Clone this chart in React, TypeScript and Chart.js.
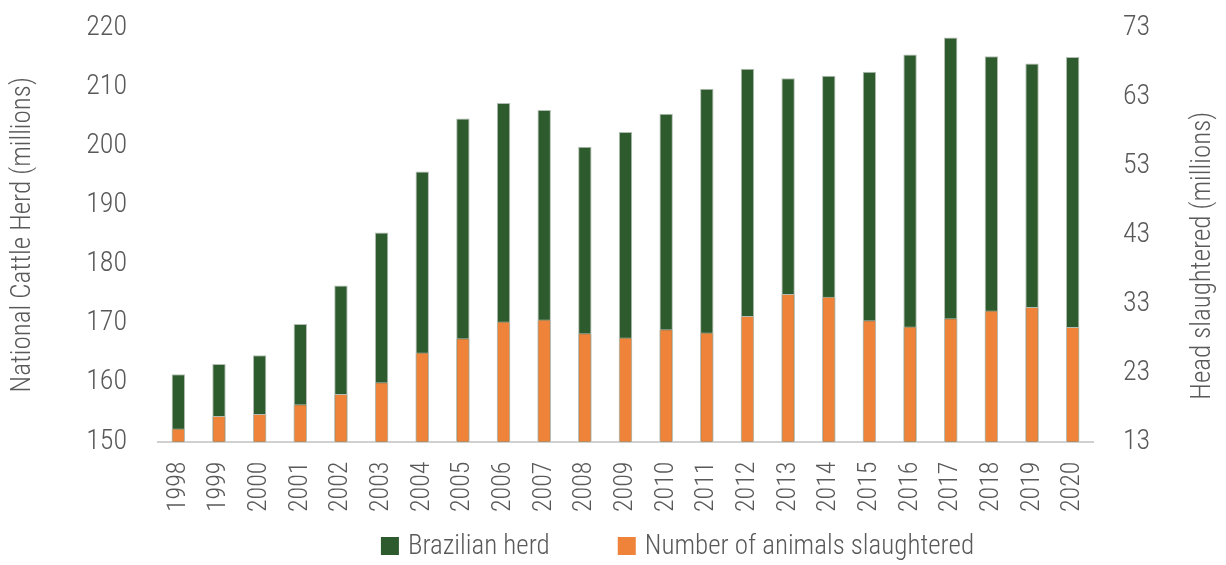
import React, { useEffect, useRef } from "react";
import { Chart, registerables } from "chart.js";

Chart.register(...registerables);

const years = ["1998","1999","2000","2001","2002","2003","2004","2005","2006","2007","2008","2009","2010","2011","2012","2013","2014","2015","2016","2017","2018","2019","2020"];
const herd = [161.4,163.1,164.6,169.9,176.4,185.4,195.7,204.7,207.3,206.1,199.9,202.4,205.5,209.7,213.1,211.5,211.9,212.6,215.5,218.4,215.2,214.0,215.1];
const slaughtered = [14.9,16.7,17.0,18.4,19.9,21.6,25.9,28.0,30.4,30.7,28.7,28.1,29.3,28.8,31.2,34.4,34.0,30.6,29.7,30.9,32.0,32.5,29.6];
const leftAxisRange = [150, 220];
const rightAxisRange = [13, 73];
const tickStep = 10;
const herdLabel = "Brazilian herd";
const slaughterLabel = "Number of animals slaughtered";
const leftTitle = "National Cattle Herd (millions)";
const rightTitle = "Head slaughtered (millions)";

const FONT = "'Roboto Condensed', 'DejaVu Sans Condensed', sans-serif";
const WEIGHT = "300";
const TEXT = "#595959";
const GREEN = "#2E5B2E";
const ORANGE = "#F0833A";
const EDGE = "#B4BDB4";

const extrasPlugin = {
  id: "extras",
  afterDraw(chart: any) {
    const { ctx, chartArea } = chart;
    ctx.save();
    // right axis title, reading bottom-to-top
    ctx.font = `${WEIGHT} 27px ${FONT}`;
    ctx.fillStyle = TEXT;
    ctx.textAlign = "center";
    ctx.textBaseline = "middle";
    ctx.save();
    ctx.translate(chart.width - 23, (chartArea.top + chartArea.bottom) / 2 + 21);
    ctx.rotate(-Math.PI / 2);
    ctx.fillText(rightTitle, 0, 0);
    ctx.restore();

    // legend
    const items = chart.data.datasets.map((d: any) => ({ text: d.label, color: d.backgroundColor }));
    const box = 18, boxGap = 9, itemGap = 68;
    ctx.font = `${WEIGHT} 27px ${FONT}`;
    const widths = items.map((it: any) => ctx.measureText(it.text).width);
    const total = widths.reduce((s: number, w: number) => s + box + boxGap + w, 0) + itemGap * (items.length - 1);
    const centerX = (chartArea.left + chartArea.right) / 2 + 52;
    const cy = chart.height - 19;
    let x = centerX - total / 2;
    ctx.textAlign = "left";
    items.forEach((it: any, i: number) => {
      ctx.fillStyle = it.color;
      ctx.fillRect(x, cy - box / 2, box, box);
      x += box + boxGap;
      ctx.fillStyle = TEXT;
      ctx.fillText(it.text, x, cy + 1);
      x += widths[i] + itemGap;
    });
    ctx.restore();
  },
};

export default function App() {
  const ref = useRef<HTMLCanvasElement | null>(null);
  useEffect(() => {
    if (!ref.current) return;
    const chart = new Chart(ref.current, {
      type: "bar",
      data: {
        labels: years,
        datasets: [
          {
            label: herdLabel,
            data: herd,
            yAxisID: "y",
            backgroundColor: GREEN,
            borderColor: EDGE,
            borderWidth: 1,
            grouped: false,
            order: 2,
            categoryPercentage: 1,
            barPercentage: 0.33,
          } as any,
          {
            label: slaughterLabel,
            data: slaughtered,
            yAxisID: "y1",
            backgroundColor: ORANGE,
            borderColor: EDGE,
            borderWidth: 1,
            grouped: false,
            order: 1,
            categoryPercentage: 1,
            barPercentage: 0.33,
          } as any,
        ],
      },
      options: {
        animation: false,
        responsive: false,
        maintainAspectRatio: false,
        layout: { padding: { left: 0, right: 0, top: 28, bottom: 0 } },
        plugins: {
          tooltip: { enabled: false },
          legend: { display: false },
        },
        scales: {
          x: {
            grid: { display: false, drawTicks: false },
            border: { display: true, color: "#D0D0D0", width: 2 },
            ticks: {
              color: TEXT,
              font: { family: FONT, size: 26, weight: WEIGHT },
              minRotation: 90,
              maxRotation: 90,
              padding: 20,
              autoSkip: false,
            },
            afterFit: (s: any) => { s.height = 123.5; },
          },
          y: {
            position: "left",
            min: leftAxisRange[0],
            max: leftAxisRange[1],
            grid: { display: false, drawTicks: false },
            border: { display: false },
            ticks: { stepSize: tickStep, color: TEXT, font: { family: FONT, size: 28, weight: WEIGHT }, padding: 31 },
            title: {
              display: true,
              text: leftTitle,
              color: TEXT,
              font: { family: FONT, size: 27, weight: WEIGHT },
              padding: { top: 6.8, bottom: 0 },
            },
            afterFit: (s: any) => { s.width = 158; s.paddingTop = 0; s.paddingBottom = 0; },
          },
          y1: {
            position: "right",
            min: rightAxisRange[0],
            max: rightAxisRange[1],
            grid: { display: false, drawTicks: false },
            border: { display: false },
            ticks: { stepSize: tickStep, color: TEXT, font: { family: FONT, size: 28, weight: WEIGHT }, padding: 30 },
            afterFit: (s: any) => { s.width = 133; s.paddingTop = 0; s.paddingBottom = 0; },
          },
        },
      } as any,
      plugins: [extrasPlugin],
    });
    return () => chart.destroy();
  }, []);
  return (
    <div style={{ position: "fixed", left: 0, top: 0, width: 1226, height: 565, background: "#fff" }}>
      <canvas ref={ref} width={1226} height={565} style={{ display: "block" }} />
    </div>
  );
}
